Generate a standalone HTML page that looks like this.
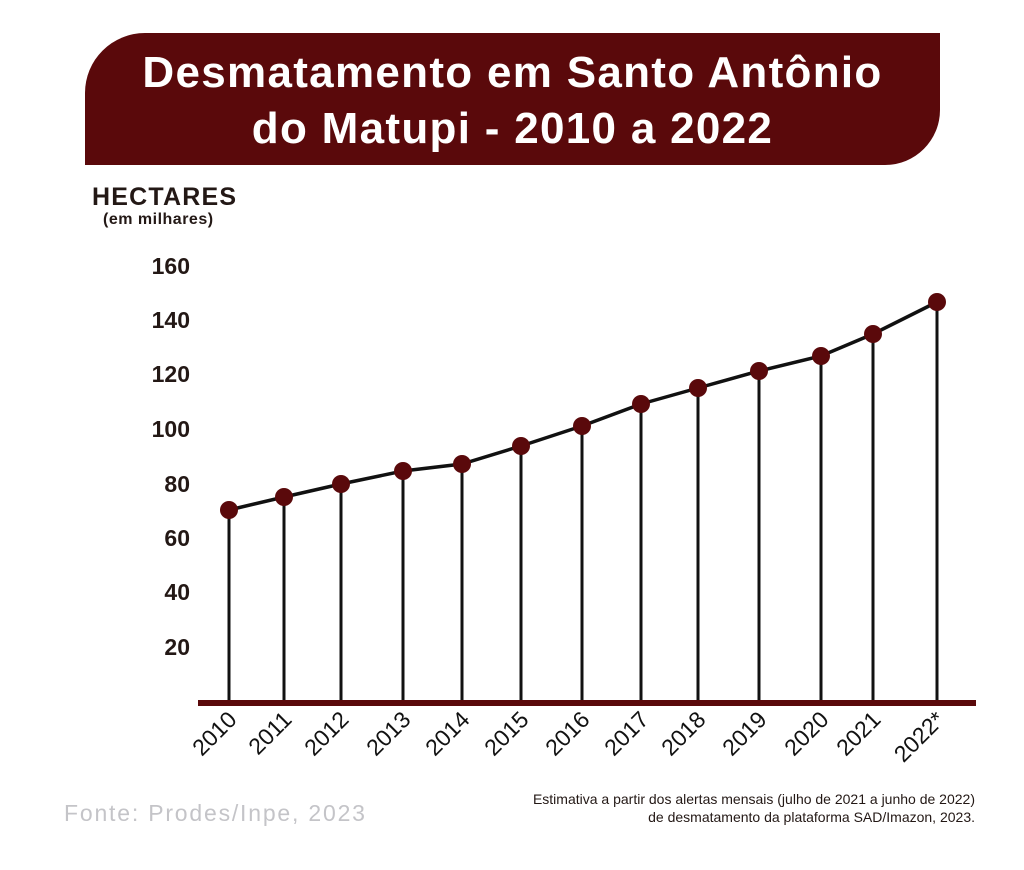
<!DOCTYPE html>
<html><head><meta charset="utf-8"><style>
body{margin:0;background:#fff;width:1024px;height:870px;overflow:hidden;position:relative;font-family:"Liberation Sans",sans-serif}
.banner{position:absolute;left:85px;top:33px;width:855px;height:132px;background:#5a090b;border-radius:60px 0 55px 0;}
.banner div{color:#fff;font-weight:bold;font-size:44px;letter-spacing:1.3px;text-align:center;line-height:56px;padding-top:12px;margin-left:0}
.t{position:absolute;color:#231815}
</style></head><body>
<div class="banner"><div>Desmatamento em Santo Antônio<br>do Matupi - 2010 a 2022</div></div>
<div class="t" style="left:92px;top:183px;font-size:25px;font-weight:bold;letter-spacing:1.2px">HECTARES</div>
<div class="t" style="left:103px;top:211px;font-size:16px;font-weight:bold;letter-spacing:0.5px">(em milhares)</div>
<svg width="1024" height="870" style="position:absolute;left:0;top:0" font-family="Liberation Sans, sans-serif">
<g font-size="23" font-weight="bold" fill="#231815" text-anchor="end">
<text x="190" y="274">160</text><text x="190" y="328">140</text><text x="190" y="382">120</text><text x="190" y="437">100</text>
<text x="190" y="492">80</text><text x="190" y="546">60</text><text x="190" y="600">40</text><text x="190" y="655">20</text>
</g>
<g stroke="#111" stroke-width="3">
<line x1="229" y1="510" x2="229" y2="702"/><line x1="284" y1="497" x2="284" y2="702"/><line x1="341" y1="484" x2="341" y2="702"/>
<line x1="403" y1="471" x2="403" y2="702"/><line x1="462" y1="464" x2="462" y2="702"/><line x1="521" y1="446" x2="521" y2="702"/>
<line x1="582" y1="426" x2="582" y2="702"/><line x1="641" y1="404" x2="641" y2="702"/><line x1="698" y1="388" x2="698" y2="702"/>
<line x1="759" y1="371" x2="759" y2="702"/><line x1="821" y1="356" x2="821" y2="702"/><line x1="873" y1="334" x2="873" y2="702"/>
<line x1="937" y1="302" x2="937" y2="702"/>
</g>
<polyline fill="none" stroke="#111" stroke-width="3.5" points="229,510 284,497 341,484 403,471 462,464 521,446 582,426 641,404 698,388 759,371 821,356 873,334 937,302"/>
<g fill="#5a090b">
<circle cx="229" cy="510" r="9"/><circle cx="284" cy="497" r="9"/><circle cx="341" cy="484" r="9"/><circle cx="403" cy="471" r="9"/>
<circle cx="462" cy="464" r="9"/><circle cx="521" cy="446" r="9"/><circle cx="582" cy="426" r="9"/><circle cx="641" cy="404" r="9"/>
<circle cx="698" cy="388" r="9"/><circle cx="759" cy="371" r="9"/><circle cx="821" cy="356" r="9"/><circle cx="873" cy="334" r="9"/>
<circle cx="937" cy="302" r="9"/>
</g>
<rect x="198" y="700" width="778" height="6" fill="#5a090b"/>
<g font-size="23" fill="#111" text-anchor="end">
<text transform="translate(238,721) rotate(-45)">2010</text><text transform="translate(293,721) rotate(-45)">2011</text>
<text transform="translate(350,721) rotate(-45)">2012</text><text transform="translate(412,721) rotate(-45)">2013</text>
<text transform="translate(471,721) rotate(-45)">2014</text><text transform="translate(530,721) rotate(-45)">2015</text>
<text transform="translate(591,721) rotate(-45)">2016</text><text transform="translate(650,721) rotate(-45)">2017</text>
<text transform="translate(707,721) rotate(-45)">2018</text><text transform="translate(768,721) rotate(-45)">2019</text>
<text transform="translate(830,721) rotate(-45)">2020</text><text transform="translate(882,721) rotate(-45)">2021</text>
<text transform="translate(946,721) rotate(-45)">2022*</text>
</g>
<text x="64" y="821" font-size="23" letter-spacing="1.8" fill="#c4c4c8">Fonte:  Prodes/Inpe, 2023</text>
<g font-size="14" fill="#231815" text-anchor="end">
<text x="975" y="804">Estimativa a partir dos alertas mensais (julho de 2021 a junho de 2022)</text>
<text x="975" y="822">de desmatamento da plataforma SAD/Imazon, 2023.</text>
</g>
</svg>
</body></html>
